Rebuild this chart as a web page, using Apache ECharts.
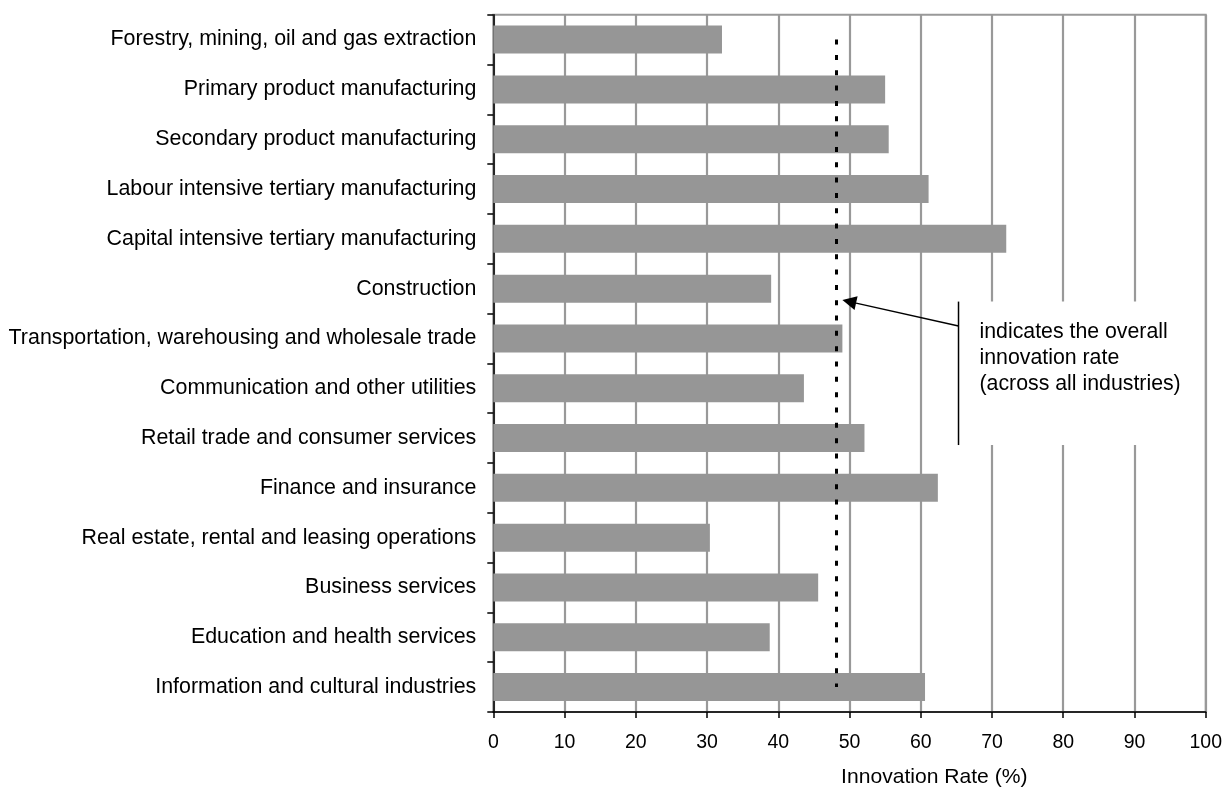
<!DOCTYPE html>
<html>
<head>
<meta charset="utf-8">
<style>
  html, body { margin: 0; padding: 0; background: #ffffff; }
  #chart { width: 1225px; height: 789px; }
</style>
<script src="https://cdn.jsdelivr.net/npm/echarts@6/dist/echarts.min.js"></script>
</head>
<body>
<div id="chart"></div>
<script>
// Industries, listed top to bottom
const industries = [
  'Forestry, mining, oil and gas extraction',
  'Primary product manufacturing',
  'Secondary product manufacturing',
  'Labour intensive tertiary manufacturing',
  'Capital intensive tertiary manufacturing',
  'Construction',
  'Transportation, warehousing and wholesale trade',
  'Communication and other utilities',
  'Retail trade and consumer services',
  'Finance and insurance',
  'Real estate, rental and leasing operations',
  'Business services',
  'Education and health services',
  'Information and cultural industries'
];

// Innovation rate (%) by industry
const innovationRates = [32.1, 55.0, 55.5, 61.1, 72.0, 39.0, 49.0, 43.6, 52.1, 62.4, 30.4, 45.6, 38.8, 60.6];

// Overall innovation rate across all industries (%)
const overallRate = 48.1;

// Axis ticks
const xMin = 0, xMax = 100, xStep = 10;

const noteLines = ['indicates the overall', 'innovation rate', '(across all industries)'];
const axisTitle = 'Innovation Rate (%)';

const FONT = '"Liberation Sans", Arial, sans-serif';
const chart = echarts.init(document.getElementById('chart'), null, { renderer: 'canvas' });

chart.setOption({
  animation: false,
  backgroundColor: '#ffffff',
  grid: {
    left: 493.3, right: 18.3, top: 14.7, bottom: 77,
    show: true, borderColor: '#999999', borderWidth: 2, backgroundColor: 'transparent'
  },
  xAxis: {
    type: 'value', min: xMin, max: xMax, interval: xStep,
    axisLine: { show: true, onZero: false, lineStyle: { color: '#000', width: 1.5 } },
    axisTick: { show: true, length: 6, lineStyle: { color: '#000', width: 1.5 } },
    axisLabel: { color: '#000', fontFamily: FONT, fontSize: 19.5, margin: 21 },
    splitLine: { show: true, lineStyle: { color: '#999999', width: 2.2 } }
  },
  yAxis: {
    type: 'category', data: industries, inverse: true,
    axisLine: { show: true, lineStyle: { color: '#000', width: 1.5 } },
    axisTick: { show: true, length: 6, alignWithLabel: false, lineStyle: { color: '#000', width: 1.5 } },
    axisLabel: { color: '#000', fontFamily: FONT, fontSize: 21.4, margin: 17 },
    splitLine: { show: false }
  },
  series: [{
    type: 'bar',
    data: innovationRates,
    barWidth: 28,
    itemStyle: { color: '#969696' },
    silent: true,
    markLine: {
      silent: true,
      symbol: ['none', 'none'],
      label: { show: false },
      lineStyle: { color: '#000', width: 3, type: [5, 10.33] },
      data: [[
        { coord: [overallRate, industries[0]] },
        { coord: [overallRate, industries[industries.length - 1]] }
      ]]
    }
  }]
});

// Annotation: callout box with an arrow pointing at the overall-rate line
function place() {
  const y0 = chart.convertToPixel({ yAxisIndex: 0 }, industries[0]);
  const y1 = chart.convertToPixel({ yAxisIndex: 0 }, industries[1]);
  const band = y1 - y0;
  const yAt = (pos) => y0 + pos * band;
  const xAt = (v) => chart.convertToPixel({ xAxisIndex: 0 }, v);

  const boxLeft = xAt(65.3);
  const boxRight = xAt(98.8);
  const boxTop = yAt(5.26);
  const boxBottom = yAt(8.14);
  const tailY = yAt(5.75);
  const tipX = xAt(49.0);
  const tipY = yAt(5.23);

  // arrow head geometry
  const dx = tipX - boxLeft, dy = tipY - tailY;
  const len = Math.sqrt(dx * dx + dy * dy);
  const ux = dx / len, uy = dy / len;
  const headLen = 14, headHalf = 7;
  const bx = tipX - ux * headLen, by = tipY - uy * headLen;
  const p1 = [bx - uy * headHalf, by + ux * headHalf];
  const p2 = [bx + uy * headHalf, by - ux * headHalf];

  const elements = [
    { type: 'rect', shape: { x: boxLeft, y: boxTop, width: boxRight - boxLeft, height: boxBottom - boxTop },
      style: { fill: '#ffffff' }, z: 50 },
    { type: 'line', shape: { x1: boxLeft, y1: boxTop, x2: boxLeft, y2: boxBottom },
      style: { stroke: '#000', lineWidth: 1.5 }, z: 51 },
    { type: 'line', shape: { x1: boxLeft, y1: tailY, x2: bx, y2: by },
      style: { stroke: '#000', lineWidth: 1.5 }, z: 51 },
    { type: 'polygon', shape: { points: [[tipX, tipY], p1, p2] },
      style: { fill: '#000' }, z: 51 }
  ];
  noteLines.forEach((t, i) => {
    elements.push({
      type: 'text', x: boxLeft + 21, y: yAt(5.88) + i * 26, z: 52,
      style: { text: t, fill: '#000', font: '21.3px ' + FONT, textVerticalAlign: 'middle', textAlign: 'left' }
    });
  });
  elements.push({
    type: 'text', x: xAt(61.9), y: 777, z: 52,
    style: { text: axisTitle, fill: '#000', font: '21.1px ' + FONT, textAlign: 'center', textVerticalAlign: 'middle' }
  });
  chart.setOption({ graphic: { elements } });
}
place();
</script>
</body>
</html>
